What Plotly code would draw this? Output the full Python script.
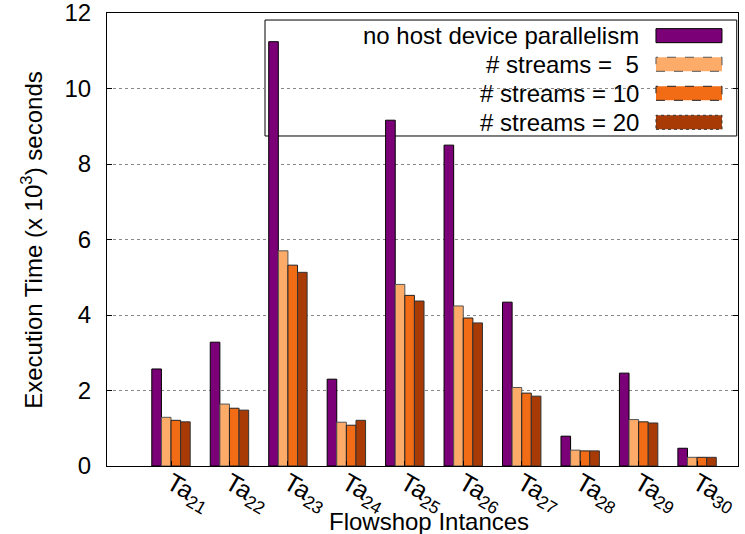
import plotly.graph_objects as go

categories = ["Ta<sub>21</sub>", "Ta<sub>22</sub>", "Ta<sub>23</sub>", "Ta<sub>24</sub>", "Ta<sub>25</sub>",
              "Ta<sub>26</sub>", "Ta<sub>27</sub>", "Ta<sub>28</sub>", "Ta<sub>29</sub>", "Ta<sub>30</sub>"]
no_parallel = [2.57, 3.28, 11.24, 2.30, 9.16, 8.50, 4.34, 0.79, 2.46, 0.47]
streams_5 = [1.29, 1.64, 5.70, 1.16, 4.81, 4.24, 2.08, 0.42, 1.23, 0.23]
streams_10 = [1.21, 1.53, 5.32, 1.08, 4.52, 3.92, 1.93, 0.40, 1.17, 0.23]
streams_20 = [1.17, 1.48, 5.13, 1.21, 4.37, 3.79, 1.85, 0.40, 1.14, 0.23]

series_names = ["no host device parallelism", "# streams = \u00a05", "# streams = 10", "# streams = 20"]
series_values = [no_parallel, streams_5, streams_10, streams_20]
colors = ["#7b0077", "#fdab68", "#f26b15", "#a83a05"]
outline = ["#000000", "#555555", "#222222", "#333333"]
dashes = ["solid", "dash", "dash", "dot"]

FONT = "Liberation Sans, Arial, Helvetica, sans-serif"
FS = 24

fig = go.Figure()
for name, vals, c, oc in zip(series_names, series_values, colors, outline):
    fig.add_trace(go.Bar(x=categories, y=vals, name=name, marker=dict(color=c, line=dict(color=oc, width=1)),
                         showlegend=False))

# custom legend (gnuplot style: text right-aligned, swatch on right)
shapes = [dict(type="rect", xref="paper", yref="paper", x0=0.2504, x1=0.998, y0=0.7285, y1=0.9845,
               line=dict(color="black", width=1), fillcolor="white", layer="between")]
annotations = []
row_y = [0.950, 0.8868, 0.8227, 0.7587]
for name, c, oc, d, yy in zip(series_names, colors, outline, dashes, row_y):
    shapes.append(dict(type="rect", xref="paper", yref="paper", x0=0.870, x1=0.9746,
                       y0=yy - 0.0155, y1=yy + 0.0155, fillcolor=c,
                       line=dict(color=oc, width=1, dash=d), layer="above"))
    annotations.append(dict(text=name, xref="paper", yref="paper", x=0.846, y=yy, xanchor="right",
                            yanchor="middle", showarrow=False, font=dict(size=FS, color="black", family=FONT)))

annotations.append(dict(text="Execution Time (x 10<sup>3</sup>) seconds", xref="paper", yref="paper",
                        x=-0.12, y=0.5, textangle=-90, showarrow=False, xanchor="center", yanchor="middle",
                        font=dict(size=FS, color="black", family=FONT)))
annotations.append(dict(text="Flowshop Intances", xref="paper", yref="paper", x=0.51, y=-0.123,
                        showarrow=False, xanchor="center", yanchor="middle",
                        font=dict(size=FS, color="black", family=FONT)))

fig.update_layout(
    width=745, height=534,
    margin=dict(l=107, r=7, t=13, b=68, autoexpand=False),
    paper_bgcolor="white", plot_bgcolor="white",
    barmode="group", bargap=0.343, bargroupgap=0,
    font=dict(family=FONT, size=FS, color="black"),
    shapes=shapes, annotations=annotations,
    xaxis=dict(type="category", range=[-1.095, 9.70], tickangle=30, showline=True, mirror=True,
               linecolor="black", linewidth=1, ticks="inside", ticklen=5, tickcolor="black",
               ticklabelstandoff=-8, ticklabeloverflow="allow",
               tickfont=dict(size=25, family=FONT), showgrid=False, automargin=False),
    yaxis=dict(range=[0, 12], dtick=2, showline=True, mirror="ticks", linecolor="black", linewidth=1,
               ticks="inside", ticklen=5, tickcolor="black", ticklabelstandoff=10, ticklabeloverflow="allow",
               tickfont=dict(size=FS, family=FONT), showgrid=True, gridcolor="#888888", griddash="dot",
               gridwidth=1, zeroline=False, automargin=False),
)

fig.write_html("out.html")
